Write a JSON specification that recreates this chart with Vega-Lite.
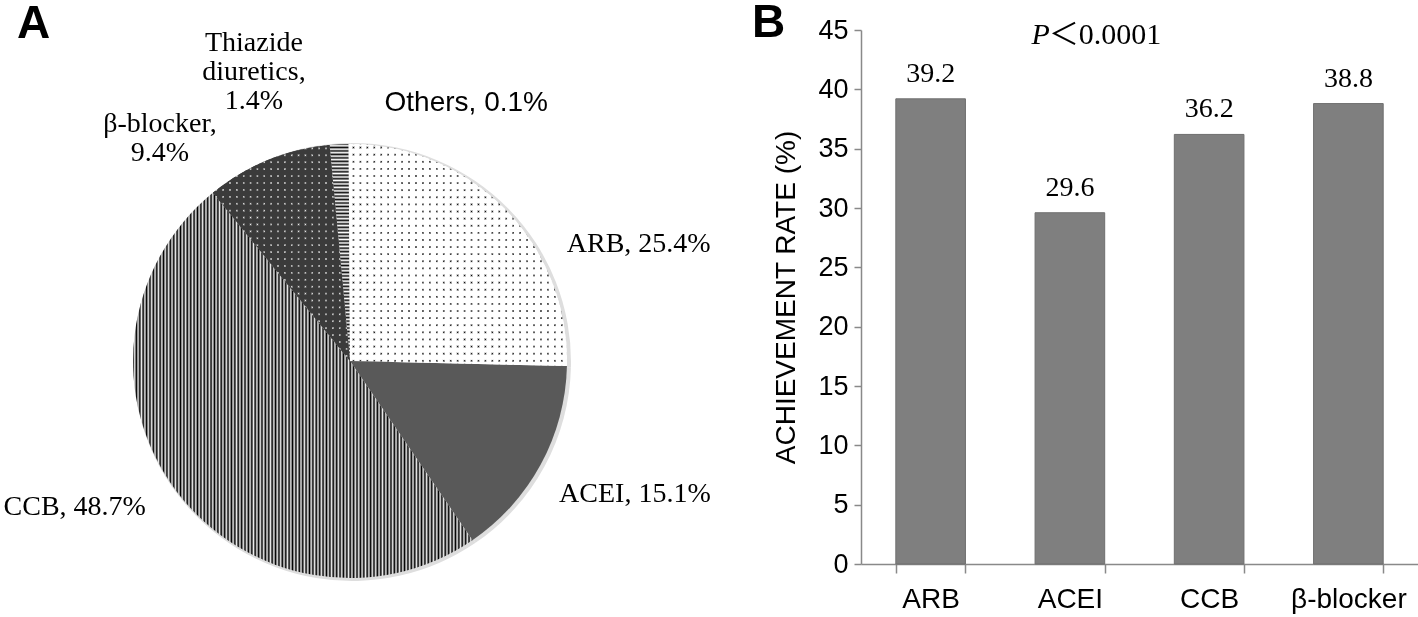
{
 "$schema": "https://vega.github.io/schema/vega-lite/v6.json",
 "background": "white",
 "padding": {"left": 0, "top": 0, "right": 0, "bottom": 0},
 "bounds": "flush",
 "spacing": 161,
 "config": {"view": {"stroke": null}},
 "hconcat": [
  {
   "width": 700,
   "height": 662,
   "title": {"text": "A", "anchor": "start", "frame": "group", "font": "Liberation Sans", "fontSize": 46, "fontWeight": "bold", "color": "#000", "baseline": "alphabetic", "offset": 0, "dx": 17, "dy": 55},
   "data": {"values": [
    {"cat": "ARB", "v": 25.4, "o": 1, "label": "ARB, 25.4%"},
    {"cat": "ACEI", "v": 15.1, "o": 2, "label": "ACEI, 15.1%"},
    {"cat": "CCB", "v": 48.7, "o": 3, "label": "CCB, 48.7%"},
    {"cat": "β-blocker", "v": 9.4, "o": 4, "label": "β-blocker,\n9.4%"},
    {"cat": "Thiazide diuretics", "v": 1.4, "o": 5, "label": "Thiazide\ndiuretics,\n1.4%"},
    {"cat": "Others", "v": 0.1, "o": 6, "label": "Others, 0.1%"}
   ]},
   "encoding": {
    "theta": {"field": "v", "type": "quantitative", "stack": true},
    "order": {"field": "o", "type": "quantitative"}
   },
   "layer": [
    {
     "mark": {"type": "arc", "outerRadius": 219, "strokeWidth": 0, "xOffset": 2, "yOffset": 1, "fill": "#dedede"}
    },
    {
     "mark": {"type": "arc", "outerRadius": 217, "strokeWidth": 0},
     "encoding": {
      "fill": {
       "condition": [
        {"test": "datum.o === 1", "value": {"gradient": "linear", "x1": 0, "y1": 0, "x2": 1, "y2": 0, "stops": [
{"offset":0.01,"color":"#fff"},{"offset":0.016,"color":"#000"},{"offset":0.022,"color":"#fff"},
{"offset":0.042,"color":"#fff"},{"offset":0.048,"color":"#000"},{"offset":0.054,"color":"#fff"},
{"offset":0.074,"color":"#fff"},{"offset":0.08,"color":"#000"},{"offset":0.086,"color":"#fff"},
{"offset":0.106,"color":"#fff"},{"offset":0.112,"color":"#000"},{"offset":0.118,"color":"#fff"},
{"offset":0.138,"color":"#fff"},{"offset":0.144,"color":"#000"},{"offset":0.15,"color":"#fff"},
{"offset":0.17,"color":"#fff"},{"offset":0.176,"color":"#000"},{"offset":0.182,"color":"#fff"},
{"offset":0.202,"color":"#fff"},{"offset":0.208,"color":"#000"},{"offset":0.214,"color":"#fff"},
{"offset":0.234,"color":"#fff"},{"offset":0.24,"color":"#000"},{"offset":0.246,"color":"#fff"},
{"offset":0.266,"color":"#fff"},{"offset":0.272,"color":"#000"},{"offset":0.278,"color":"#fff"},
{"offset":0.298,"color":"#fff"},{"offset":0.304,"color":"#000"},{"offset":0.31,"color":"#fff"},
{"offset":0.33,"color":"#fff"},{"offset":0.336,"color":"#000"},{"offset":0.342,"color":"#fff"},
{"offset":0.362,"color":"#fff"},{"offset":0.368,"color":"#000"},{"offset":0.374,"color":"#fff"},
{"offset":0.394,"color":"#fff"},{"offset":0.4,"color":"#000"},{"offset":0.406,"color":"#fff"},
{"offset":0.426,"color":"#fff"},{"offset":0.432,"color":"#000"},{"offset":0.438,"color":"#fff"},
{"offset":0.458,"color":"#fff"},{"offset":0.464,"color":"#000"},{"offset":0.47,"color":"#fff"},
{"offset":0.49,"color":"#fff"},{"offset":0.496,"color":"#000"},{"offset":0.502,"color":"#fff"},
{"offset":0.522,"color":"#fff"},{"offset":0.528,"color":"#000"},{"offset":0.534,"color":"#fff"},
{"offset":0.554,"color":"#fff"},{"offset":0.56,"color":"#000"},{"offset":0.566,"color":"#fff"},
{"offset":0.586,"color":"#fff"},{"offset":0.592,"color":"#000"},{"offset":0.598,"color":"#fff"},
{"offset":0.618,"color":"#fff"},{"offset":0.624,"color":"#000"},{"offset":0.63,"color":"#fff"},
{"offset":0.65,"color":"#fff"},{"offset":0.656,"color":"#000"},{"offset":0.662,"color":"#fff"},
{"offset":0.682,"color":"#fff"},{"offset":0.688,"color":"#000"},{"offset":0.694,"color":"#fff"},
{"offset":0.714,"color":"#fff"},{"offset":0.72,"color":"#000"},{"offset":0.726,"color":"#fff"},
{"offset":0.746,"color":"#fff"},{"offset":0.752,"color":"#000"},{"offset":0.758,"color":"#fff"},
{"offset":0.778,"color":"#fff"},{"offset":0.784,"color":"#000"},{"offset":0.79,"color":"#fff"},
{"offset":0.81,"color":"#fff"},{"offset":0.816,"color":"#000"},{"offset":0.822,"color":"#fff"},
{"offset":0.842,"color":"#fff"},{"offset":0.848,"color":"#000"},{"offset":0.854,"color":"#fff"},
{"offset":0.874,"color":"#fff"},{"offset":0.88,"color":"#000"},{"offset":0.886,"color":"#fff"},
{"offset":0.906,"color":"#fff"},{"offset":0.912,"color":"#000"},{"offset":0.918,"color":"#fff"},
{"offset":0.938,"color":"#fff"},{"offset":0.944,"color":"#000"},{"offset":0.95,"color":"#fff"},
{"offset":0.97,"color":"#fff"},{"offset":0.976,"color":"#000"},{"offset":0.982,"color":"#fff"}
        ]}},
        {"test": "datum.o === 2", "value": "#595959"},
        {"test": "datum.o === 3", "value": {"gradient": "linear", "x1": 0, "y1": 0, "x2": 1, "y2": 0, "stops": [
{"offset":0,"color":"#000"},{"offset":0.005,"color":"#ececec"},{"offset":0.01,"color":"#000"},{"offset":0.015,"color":"#ececec"},{"offset":0.02,"color":"#000"},{"offset":0.025,"color":"#ececec"},{"offset":0.03,"color":"#000"},{"offset":0.035,"color":"#ececec"},{"offset":0.04,"color":"#000"},{"offset":0.045,"color":"#ececec"},
{"offset":0.05,"color":"#000"},{"offset":0.055,"color":"#ececec"},{"offset":0.06,"color":"#000"},{"offset":0.065,"color":"#ececec"},{"offset":0.07,"color":"#000"},{"offset":0.075,"color":"#ececec"},{"offset":0.08,"color":"#000"},{"offset":0.085,"color":"#ececec"},{"offset":0.09,"color":"#000"},{"offset":0.095,"color":"#ececec"},
{"offset":0.1,"color":"#000"},{"offset":0.105,"color":"#ececec"},{"offset":0.11,"color":"#000"},{"offset":0.115,"color":"#ececec"},{"offset":0.12,"color":"#000"},{"offset":0.125,"color":"#ececec"},{"offset":0.13,"color":"#000"},{"offset":0.135,"color":"#ececec"},{"offset":0.14,"color":"#000"},{"offset":0.145,"color":"#ececec"},
{"offset":0.15,"color":"#000"},{"offset":0.155,"color":"#ececec"},{"offset":0.16,"color":"#000"},{"offset":0.165,"color":"#ececec"},{"offset":0.17,"color":"#000"},{"offset":0.175,"color":"#ececec"},{"offset":0.18,"color":"#000"},{"offset":0.185,"color":"#ececec"},{"offset":0.19,"color":"#000"},{"offset":0.195,"color":"#ececec"},
{"offset":0.2,"color":"#000"},{"offset":0.205,"color":"#ececec"},{"offset":0.21,"color":"#000"},{"offset":0.215,"color":"#ececec"},{"offset":0.22,"color":"#000"},{"offset":0.225,"color":"#ececec"},{"offset":0.23,"color":"#000"},{"offset":0.235,"color":"#ececec"},{"offset":0.24,"color":"#000"},{"offset":0.245,"color":"#ececec"},
{"offset":0.25,"color":"#000"},{"offset":0.255,"color":"#ececec"},{"offset":0.26,"color":"#000"},{"offset":0.265,"color":"#ececec"},{"offset":0.27,"color":"#000"},{"offset":0.275,"color":"#ececec"},{"offset":0.28,"color":"#000"},{"offset":0.285,"color":"#ececec"},{"offset":0.29,"color":"#000"},{"offset":0.295,"color":"#ececec"},
{"offset":0.3,"color":"#000"},{"offset":0.305,"color":"#ececec"},{"offset":0.31,"color":"#000"},{"offset":0.315,"color":"#ececec"},{"offset":0.32,"color":"#000"},{"offset":0.325,"color":"#ececec"},{"offset":0.33,"color":"#000"},{"offset":0.335,"color":"#ececec"},{"offset":0.34,"color":"#000"},{"offset":0.345,"color":"#ececec"},
{"offset":0.35,"color":"#000"},{"offset":0.355,"color":"#ececec"},{"offset":0.36,"color":"#000"},{"offset":0.365,"color":"#ececec"},{"offset":0.37,"color":"#000"},{"offset":0.375,"color":"#ececec"},{"offset":0.38,"color":"#000"},{"offset":0.385,"color":"#ececec"},{"offset":0.39,"color":"#000"},{"offset":0.395,"color":"#ececec"},
{"offset":0.4,"color":"#000"},{"offset":0.405,"color":"#ececec"},{"offset":0.41,"color":"#000"},{"offset":0.415,"color":"#ececec"},{"offset":0.42,"color":"#000"},{"offset":0.425,"color":"#ececec"},{"offset":0.43,"color":"#000"},{"offset":0.435,"color":"#ececec"},{"offset":0.44,"color":"#000"},{"offset":0.445,"color":"#ececec"},
{"offset":0.45,"color":"#000"},{"offset":0.455,"color":"#ececec"},{"offset":0.46,"color":"#000"},{"offset":0.465,"color":"#ececec"},{"offset":0.47,"color":"#000"},{"offset":0.475,"color":"#ececec"},{"offset":0.48,"color":"#000"},{"offset":0.485,"color":"#ececec"},{"offset":0.49,"color":"#000"},{"offset":0.495,"color":"#ececec"},
{"offset":0.5,"color":"#000"},{"offset":0.505,"color":"#ececec"},{"offset":0.51,"color":"#000"},{"offset":0.515,"color":"#ececec"},{"offset":0.52,"color":"#000"},{"offset":0.525,"color":"#ececec"},{"offset":0.53,"color":"#000"},{"offset":0.535,"color":"#ececec"},{"offset":0.54,"color":"#000"},{"offset":0.545,"color":"#ececec"},
{"offset":0.55,"color":"#000"},{"offset":0.555,"color":"#ececec"},{"offset":0.56,"color":"#000"},{"offset":0.565,"color":"#ececec"},{"offset":0.57,"color":"#000"},{"offset":0.575,"color":"#ececec"},{"offset":0.58,"color":"#000"},{"offset":0.585,"color":"#ececec"},{"offset":0.59,"color":"#000"},{"offset":0.595,"color":"#ececec"},
{"offset":0.6,"color":"#000"},{"offset":0.605,"color":"#ececec"},{"offset":0.61,"color":"#000"},{"offset":0.615,"color":"#ececec"},{"offset":0.62,"color":"#000"},{"offset":0.625,"color":"#ececec"},{"offset":0.63,"color":"#000"},{"offset":0.635,"color":"#ececec"},{"offset":0.64,"color":"#000"},{"offset":0.645,"color":"#ececec"},
{"offset":0.65,"color":"#000"},{"offset":0.655,"color":"#ececec"},{"offset":0.66,"color":"#000"},{"offset":0.665,"color":"#ececec"},{"offset":0.67,"color":"#000"},{"offset":0.675,"color":"#ececec"},{"offset":0.68,"color":"#000"},{"offset":0.685,"color":"#ececec"},{"offset":0.69,"color":"#000"},{"offset":0.695,"color":"#ececec"},
{"offset":0.7,"color":"#000"},{"offset":0.705,"color":"#ececec"},{"offset":0.71,"color":"#000"},{"offset":0.715,"color":"#ececec"},{"offset":0.72,"color":"#000"},{"offset":0.725,"color":"#ececec"},{"offset":0.73,"color":"#000"},{"offset":0.735,"color":"#ececec"},{"offset":0.74,"color":"#000"},{"offset":0.745,"color":"#ececec"},
{"offset":0.75,"color":"#000"},{"offset":0.755,"color":"#ececec"},{"offset":0.76,"color":"#000"},{"offset":0.765,"color":"#ececec"},{"offset":0.77,"color":"#000"},{"offset":0.775,"color":"#ececec"},{"offset":0.78,"color":"#000"},{"offset":0.785,"color":"#ececec"},{"offset":0.79,"color":"#000"},{"offset":0.795,"color":"#ececec"},
{"offset":0.8,"color":"#000"},{"offset":0.805,"color":"#ececec"},{"offset":0.81,"color":"#000"},{"offset":0.815,"color":"#ececec"},{"offset":0.82,"color":"#000"},{"offset":0.825,"color":"#ececec"},{"offset":0.83,"color":"#000"},{"offset":0.835,"color":"#ececec"},{"offset":0.84,"color":"#000"},{"offset":0.845,"color":"#ececec"},
{"offset":0.85,"color":"#000"},{"offset":0.855,"color":"#ececec"},{"offset":0.86,"color":"#000"},{"offset":0.865,"color":"#ececec"},{"offset":0.87,"color":"#000"},{"offset":0.875,"color":"#ececec"},{"offset":0.88,"color":"#000"},{"offset":0.885,"color":"#ececec"},{"offset":0.89,"color":"#000"},{"offset":0.895,"color":"#ececec"},
{"offset":0.9,"color":"#000"},{"offset":0.905,"color":"#ececec"},{"offset":0.91,"color":"#000"},{"offset":0.915,"color":"#ececec"},{"offset":0.92,"color":"#000"},{"offset":0.925,"color":"#ececec"},{"offset":0.93,"color":"#000"},{"offset":0.935,"color":"#ececec"},{"offset":0.94,"color":"#000"},{"offset":0.945,"color":"#ececec"},
{"offset":0.95,"color":"#000"},{"offset":0.955,"color":"#ececec"},{"offset":0.96,"color":"#000"},{"offset":0.965,"color":"#ececec"},{"offset":0.97,"color":"#000"},{"offset":0.975,"color":"#ececec"},{"offset":0.98,"color":"#000"},{"offset":0.985,"color":"#ececec"},{"offset":0.99,"color":"#000"},{"offset":0.995,"color":"#ececec"},
{"offset":1,"color":"#000"}
        ]}},
        {"test": "datum.o === 4", "value": {"gradient": "linear", "x1": 0, "y1": 0, "x2": 1, "y2": 0, "stops": [
{"offset":0.016,"color":"#3b3b3b"},{"offset":0.025,"color":"#f4f4f4"},{"offset":0.034,"color":"#3b3b3b"},
{"offset":0.066,"color":"#3b3b3b"},{"offset":0.075,"color":"#f4f4f4"},{"offset":0.084,"color":"#3b3b3b"},
{"offset":0.116,"color":"#3b3b3b"},{"offset":0.125,"color":"#f4f4f4"},{"offset":0.134,"color":"#3b3b3b"},
{"offset":0.166,"color":"#3b3b3b"},{"offset":0.175,"color":"#f4f4f4"},{"offset":0.184,"color":"#3b3b3b"},
{"offset":0.216,"color":"#3b3b3b"},{"offset":0.225,"color":"#f4f4f4"},{"offset":0.234,"color":"#3b3b3b"},
{"offset":0.266,"color":"#3b3b3b"},{"offset":0.275,"color":"#f4f4f4"},{"offset":0.284,"color":"#3b3b3b"},
{"offset":0.316,"color":"#3b3b3b"},{"offset":0.325,"color":"#f4f4f4"},{"offset":0.334,"color":"#3b3b3b"},
{"offset":0.366,"color":"#3b3b3b"},{"offset":0.375,"color":"#f4f4f4"},{"offset":0.384,"color":"#3b3b3b"},
{"offset":0.416,"color":"#3b3b3b"},{"offset":0.425,"color":"#f4f4f4"},{"offset":0.434,"color":"#3b3b3b"},
{"offset":0.466,"color":"#3b3b3b"},{"offset":0.475,"color":"#f4f4f4"},{"offset":0.484,"color":"#3b3b3b"},
{"offset":0.516,"color":"#3b3b3b"},{"offset":0.525,"color":"#f4f4f4"},{"offset":0.534,"color":"#3b3b3b"},
{"offset":0.566,"color":"#3b3b3b"},{"offset":0.575,"color":"#f4f4f4"},{"offset":0.584,"color":"#3b3b3b"},
{"offset":0.616,"color":"#3b3b3b"},{"offset":0.625,"color":"#f4f4f4"},{"offset":0.634,"color":"#3b3b3b"},
{"offset":0.666,"color":"#3b3b3b"},{"offset":0.675,"color":"#f4f4f4"},{"offset":0.684,"color":"#3b3b3b"},
{"offset":0.716,"color":"#3b3b3b"},{"offset":0.725,"color":"#f4f4f4"},{"offset":0.734,"color":"#3b3b3b"},
{"offset":0.766,"color":"#3b3b3b"},{"offset":0.775,"color":"#f4f4f4"},{"offset":0.784,"color":"#3b3b3b"},
{"offset":0.816,"color":"#3b3b3b"},{"offset":0.825,"color":"#f4f4f4"},{"offset":0.834,"color":"#3b3b3b"},
{"offset":0.866,"color":"#3b3b3b"},{"offset":0.875,"color":"#f4f4f4"},{"offset":0.884,"color":"#3b3b3b"},
{"offset":0.916,"color":"#3b3b3b"},{"offset":0.925,"color":"#f4f4f4"},{"offset":0.934,"color":"#3b3b3b"},
{"offset":0.966,"color":"#3b3b3b"},{"offset":0.975,"color":"#f4f4f4"},{"offset":0.984,"color":"#3b3b3b"}
        ]}},
        {"test": "datum.o === 5", "value": {"gradient": "linear", "x1": 0, "y1": 0, "x2": 0, "y2": 1, "stops": [
{"offset":0,"color":"#111"},{"offset":0.008,"color":"#fff"},{"offset":0.016,"color":"#111"},{"offset":0.024,"color":"#fff"},{"offset":0.032,"color":"#111"},{"offset":0.04,"color":"#fff"},{"offset":0.048,"color":"#111"},{"offset":0.056,"color":"#fff"},{"offset":0.064,"color":"#111"},{"offset":0.072,"color":"#fff"},
{"offset":0.08,"color":"#111"},{"offset":0.088,"color":"#fff"},{"offset":0.096,"color":"#111"},{"offset":0.104,"color":"#fff"},{"offset":0.112,"color":"#111"},{"offset":0.12,"color":"#fff"},{"offset":0.128,"color":"#111"},{"offset":0.136,"color":"#fff"},{"offset":0.144,"color":"#111"},{"offset":0.152,"color":"#fff"},
{"offset":0.16,"color":"#111"},{"offset":0.168,"color":"#fff"},{"offset":0.176,"color":"#111"},{"offset":0.184,"color":"#fff"},{"offset":0.192,"color":"#111"},{"offset":0.2,"color":"#fff"},{"offset":0.208,"color":"#111"},{"offset":0.216,"color":"#fff"},{"offset":0.224,"color":"#111"},{"offset":0.232,"color":"#fff"},
{"offset":0.24,"color":"#111"},{"offset":0.248,"color":"#fff"},{"offset":0.256,"color":"#111"},{"offset":0.264,"color":"#fff"},{"offset":0.272,"color":"#111"},{"offset":0.28,"color":"#fff"},{"offset":0.288,"color":"#111"},{"offset":0.296,"color":"#fff"},{"offset":0.304,"color":"#111"},{"offset":0.312,"color":"#fff"},
{"offset":0.32,"color":"#111"},{"offset":0.328,"color":"#fff"},{"offset":0.336,"color":"#111"},{"offset":0.344,"color":"#fff"},{"offset":0.352,"color":"#111"},{"offset":0.36,"color":"#fff"},{"offset":0.368,"color":"#111"},{"offset":0.376,"color":"#fff"},{"offset":0.384,"color":"#111"},{"offset":0.392,"color":"#fff"},
{"offset":0.4,"color":"#111"},{"offset":0.408,"color":"#fff"},{"offset":0.416,"color":"#111"},{"offset":0.424,"color":"#fff"},{"offset":0.432,"color":"#111"},{"offset":0.44,"color":"#fff"},{"offset":0.448,"color":"#111"},{"offset":0.456,"color":"#fff"},{"offset":0.464,"color":"#111"},{"offset":0.472,"color":"#fff"},
{"offset":0.48,"color":"#111"},{"offset":0.488,"color":"#fff"},{"offset":0.496,"color":"#111"},{"offset":0.504,"color":"#fff"},{"offset":0.512,"color":"#111"},{"offset":0.52,"color":"#fff"},{"offset":0.528,"color":"#111"},{"offset":0.536,"color":"#fff"},{"offset":0.544,"color":"#111"},{"offset":0.552,"color":"#fff"},
{"offset":0.56,"color":"#111"},{"offset":0.568,"color":"#fff"},{"offset":0.576,"color":"#111"},{"offset":0.584,"color":"#fff"},{"offset":0.592,"color":"#111"},{"offset":0.6,"color":"#fff"},{"offset":0.608,"color":"#111"},{"offset":0.616,"color":"#fff"},{"offset":0.624,"color":"#111"},{"offset":0.632,"color":"#fff"},
{"offset":0.64,"color":"#111"},{"offset":0.648,"color":"#fff"},{"offset":0.656,"color":"#111"},{"offset":0.664,"color":"#fff"},{"offset":0.672,"color":"#111"},{"offset":0.68,"color":"#fff"},{"offset":0.688,"color":"#111"},{"offset":0.696,"color":"#fff"},{"offset":0.704,"color":"#111"},{"offset":0.712,"color":"#fff"},
{"offset":0.72,"color":"#111"},{"offset":0.728,"color":"#fff"},{"offset":0.736,"color":"#111"},{"offset":0.744,"color":"#fff"},{"offset":0.752,"color":"#111"},{"offset":0.76,"color":"#fff"},{"offset":0.768,"color":"#111"},{"offset":0.776,"color":"#fff"},{"offset":0.784,"color":"#111"},{"offset":0.792,"color":"#fff"},
{"offset":0.8,"color":"#111"},{"offset":0.808,"color":"#fff"},{"offset":0.816,"color":"#111"},{"offset":0.824,"color":"#fff"},{"offset":0.832,"color":"#111"},{"offset":0.84,"color":"#fff"},{"offset":0.848,"color":"#111"},{"offset":0.856,"color":"#fff"},{"offset":0.864,"color":"#111"},{"offset":0.872,"color":"#fff"},
{"offset":0.88,"color":"#111"},{"offset":0.888,"color":"#fff"},{"offset":0.896,"color":"#111"},{"offset":0.904,"color":"#fff"},{"offset":0.912,"color":"#111"},{"offset":0.92,"color":"#fff"},{"offset":0.928,"color":"#111"},{"offset":0.936,"color":"#fff"},{"offset":0.944,"color":"#111"},{"offset":0.952,"color":"#fff"},
{"offset":0.96,"color":"#111"},{"offset":0.968,"color":"#fff"},{"offset":0.976,"color":"#111"},{"offset":0.984,"color":"#fff"},{"offset":0.992,"color":"#111"},{"offset":1,"color":"#fff"}
        ]}}
       ],
       "value": "#ffffff"
      }
     }
    },
    {
     "mark": {"type": "arc", "outerRadius": 217, "strokeWidth": 0, "blend": "lighten"},
     "encoding": {
      "fill": {
       "condition": {"test": "datum.o === 1", "value": {"gradient": "linear", "x1": 0, "y1": 0, "x2": 0, "y2": 1, "stops": [
{"offset":0.01,"color":"#fff"},{"offset":0.016,"color":"#000"},{"offset":0.022,"color":"#fff"},
{"offset":0.042,"color":"#fff"},{"offset":0.048,"color":"#000"},{"offset":0.054,"color":"#fff"},
{"offset":0.074,"color":"#fff"},{"offset":0.08,"color":"#000"},{"offset":0.086,"color":"#fff"},
{"offset":0.106,"color":"#fff"},{"offset":0.112,"color":"#000"},{"offset":0.118,"color":"#fff"},
{"offset":0.138,"color":"#fff"},{"offset":0.144,"color":"#000"},{"offset":0.15,"color":"#fff"},
{"offset":0.17,"color":"#fff"},{"offset":0.176,"color":"#000"},{"offset":0.182,"color":"#fff"},
{"offset":0.202,"color":"#fff"},{"offset":0.208,"color":"#000"},{"offset":0.214,"color":"#fff"},
{"offset":0.234,"color":"#fff"},{"offset":0.24,"color":"#000"},{"offset":0.246,"color":"#fff"},
{"offset":0.266,"color":"#fff"},{"offset":0.272,"color":"#000"},{"offset":0.278,"color":"#fff"},
{"offset":0.298,"color":"#fff"},{"offset":0.304,"color":"#000"},{"offset":0.31,"color":"#fff"},
{"offset":0.33,"color":"#fff"},{"offset":0.336,"color":"#000"},{"offset":0.342,"color":"#fff"},
{"offset":0.362,"color":"#fff"},{"offset":0.368,"color":"#000"},{"offset":0.374,"color":"#fff"},
{"offset":0.394,"color":"#fff"},{"offset":0.4,"color":"#000"},{"offset":0.406,"color":"#fff"},
{"offset":0.426,"color":"#fff"},{"offset":0.432,"color":"#000"},{"offset":0.438,"color":"#fff"},
{"offset":0.458,"color":"#fff"},{"offset":0.464,"color":"#000"},{"offset":0.47,"color":"#fff"},
{"offset":0.49,"color":"#fff"},{"offset":0.496,"color":"#000"},{"offset":0.502,"color":"#fff"},
{"offset":0.522,"color":"#fff"},{"offset":0.528,"color":"#000"},{"offset":0.534,"color":"#fff"},
{"offset":0.554,"color":"#fff"},{"offset":0.56,"color":"#000"},{"offset":0.566,"color":"#fff"},
{"offset":0.586,"color":"#fff"},{"offset":0.592,"color":"#000"},{"offset":0.598,"color":"#fff"},
{"offset":0.618,"color":"#fff"},{"offset":0.624,"color":"#000"},{"offset":0.63,"color":"#fff"},
{"offset":0.65,"color":"#fff"},{"offset":0.656,"color":"#000"},{"offset":0.662,"color":"#fff"},
{"offset":0.682,"color":"#fff"},{"offset":0.688,"color":"#000"},{"offset":0.694,"color":"#fff"},
{"offset":0.714,"color":"#fff"},{"offset":0.72,"color":"#000"},{"offset":0.726,"color":"#fff"},
{"offset":0.746,"color":"#fff"},{"offset":0.752,"color":"#000"},{"offset":0.758,"color":"#fff"},
{"offset":0.778,"color":"#fff"},{"offset":0.784,"color":"#000"},{"offset":0.79,"color":"#fff"},
{"offset":0.81,"color":"#fff"},{"offset":0.816,"color":"#000"},{"offset":0.822,"color":"#fff"},
{"offset":0.842,"color":"#fff"},{"offset":0.848,"color":"#000"},{"offset":0.854,"color":"#fff"},
{"offset":0.874,"color":"#fff"},{"offset":0.88,"color":"#000"},{"offset":0.886,"color":"#fff"},
{"offset":0.906,"color":"#fff"},{"offset":0.912,"color":"#000"},{"offset":0.918,"color":"#fff"},
{"offset":0.938,"color":"#fff"},{"offset":0.944,"color":"#000"},{"offset":0.95,"color":"#fff"},
{"offset":0.97,"color":"#fff"},{"offset":0.976,"color":"#000"},{"offset":0.982,"color":"#fff"}
       ]}},
       "value": "transparent"
      }
     }
    },
    {
     "mark": {"type": "arc", "outerRadius": 217, "strokeWidth": 0, "blend": "darken"},
     "encoding": {
      "fill": {
       "condition": {"test": "datum.o === 4", "value": {"gradient": "linear", "x1": 0, "y1": 0, "x2": 0, "y2": 1, "stops": [
{"offset":0.01,"color":"#3b3b3b"},{"offset":0.016,"color":"#f4f4f4"},{"offset":0.022,"color":"#3b3b3b"},
{"offset":0.042,"color":"#3b3b3b"},{"offset":0.048,"color":"#f4f4f4"},{"offset":0.054,"color":"#3b3b3b"},
{"offset":0.074,"color":"#3b3b3b"},{"offset":0.08,"color":"#f4f4f4"},{"offset":0.086,"color":"#3b3b3b"},
{"offset":0.106,"color":"#3b3b3b"},{"offset":0.112,"color":"#f4f4f4"},{"offset":0.118,"color":"#3b3b3b"},
{"offset":0.138,"color":"#3b3b3b"},{"offset":0.144,"color":"#f4f4f4"},{"offset":0.15,"color":"#3b3b3b"},
{"offset":0.17,"color":"#3b3b3b"},{"offset":0.176,"color":"#f4f4f4"},{"offset":0.182,"color":"#3b3b3b"},
{"offset":0.202,"color":"#3b3b3b"},{"offset":0.208,"color":"#f4f4f4"},{"offset":0.214,"color":"#3b3b3b"},
{"offset":0.234,"color":"#3b3b3b"},{"offset":0.24,"color":"#f4f4f4"},{"offset":0.246,"color":"#3b3b3b"},
{"offset":0.266,"color":"#3b3b3b"},{"offset":0.272,"color":"#f4f4f4"},{"offset":0.278,"color":"#3b3b3b"},
{"offset":0.298,"color":"#3b3b3b"},{"offset":0.304,"color":"#f4f4f4"},{"offset":0.31,"color":"#3b3b3b"},
{"offset":0.33,"color":"#3b3b3b"},{"offset":0.336,"color":"#f4f4f4"},{"offset":0.342,"color":"#3b3b3b"},
{"offset":0.362,"color":"#3b3b3b"},{"offset":0.368,"color":"#f4f4f4"},{"offset":0.374,"color":"#3b3b3b"},
{"offset":0.394,"color":"#3b3b3b"},{"offset":0.4,"color":"#f4f4f4"},{"offset":0.406,"color":"#3b3b3b"},
{"offset":0.426,"color":"#3b3b3b"},{"offset":0.432,"color":"#f4f4f4"},{"offset":0.438,"color":"#3b3b3b"},
{"offset":0.458,"color":"#3b3b3b"},{"offset":0.464,"color":"#f4f4f4"},{"offset":0.47,"color":"#3b3b3b"},
{"offset":0.49,"color":"#3b3b3b"},{"offset":0.496,"color":"#f4f4f4"},{"offset":0.502,"color":"#3b3b3b"},
{"offset":0.522,"color":"#3b3b3b"},{"offset":0.528,"color":"#f4f4f4"},{"offset":0.534,"color":"#3b3b3b"},
{"offset":0.554,"color":"#3b3b3b"},{"offset":0.56,"color":"#f4f4f4"},{"offset":0.566,"color":"#3b3b3b"},
{"offset":0.586,"color":"#3b3b3b"},{"offset":0.592,"color":"#f4f4f4"},{"offset":0.598,"color":"#3b3b3b"},
{"offset":0.618,"color":"#3b3b3b"},{"offset":0.624,"color":"#f4f4f4"},{"offset":0.63,"color":"#3b3b3b"},
{"offset":0.65,"color":"#3b3b3b"},{"offset":0.656,"color":"#f4f4f4"},{"offset":0.662,"color":"#3b3b3b"},
{"offset":0.682,"color":"#3b3b3b"},{"offset":0.688,"color":"#f4f4f4"},{"offset":0.694,"color":"#3b3b3b"},
{"offset":0.714,"color":"#3b3b3b"},{"offset":0.72,"color":"#f4f4f4"},{"offset":0.726,"color":"#3b3b3b"},
{"offset":0.746,"color":"#3b3b3b"},{"offset":0.752,"color":"#f4f4f4"},{"offset":0.758,"color":"#3b3b3b"},
{"offset":0.778,"color":"#3b3b3b"},{"offset":0.784,"color":"#f4f4f4"},{"offset":0.79,"color":"#3b3b3b"},
{"offset":0.81,"color":"#3b3b3b"},{"offset":0.816,"color":"#f4f4f4"},{"offset":0.822,"color":"#3b3b3b"},
{"offset":0.842,"color":"#3b3b3b"},{"offset":0.848,"color":"#f4f4f4"},{"offset":0.854,"color":"#3b3b3b"},
{"offset":0.874,"color":"#3b3b3b"},{"offset":0.88,"color":"#f4f4f4"},{"offset":0.886,"color":"#3b3b3b"},
{"offset":0.906,"color":"#3b3b3b"},{"offset":0.912,"color":"#f4f4f4"},{"offset":0.918,"color":"#3b3b3b"},
{"offset":0.938,"color":"#3b3b3b"},{"offset":0.944,"color":"#f4f4f4"},{"offset":0.95,"color":"#3b3b3b"},
{"offset":0.97,"color":"#3b3b3b"},{"offset":0.976,"color":"#f4f4f4"},{"offset":0.982,"color":"#3b3b3b"}
       ]}},
       "value": "transparent"
      }
     }
    },
    {
     "mark": {
      "type": "text",
      "radius": 240,
      "align": "center",
      "baseline": "middle",
      "lineBreak": "\n",
      "lineHeight": 29,
      "color": "#000",
      "fontSize": 28,
      "font": {"expr": "datum.o === 6 ? 'Liberation Sans' : 'Liberation Serif'"},
      "dx": {"expr": "datum.o === 1 ? 117 : datum.o === 2 ? 74 : datum.o === 3 ? -83 : datum.o === 4 ? -99 : datum.o === 5 ? -84 : 117"},
      "dy": {"expr": "datum.o === 1 ? 51 : datum.o === 2 ? 18 : datum.o === 3 ? 2 : datum.o === 4 ? -15 : datum.o === 5 ? -78 : -18"}
     },
     "encoding": {
      "text": {"field": "label", "type": "nominal"}
     }
    }
   ]
  },
  {
   "width": 557,
   "height": 534,
   "title": {"text": "B", "anchor": "start", "frame": "group", "font": "Liberation Sans", "fontSize": 46, "fontWeight": "bold", "color": "#000", "baseline": "alphabetic", "offset": 0, "dx": -109, "dy": 67},
   "layer": [
    {
     "data": {"values": [
      {"drug": "ARB", "rate": 39.2},
      {"drug": "ACEI", "rate": 29.6},
      {"drug": "CCB", "rate": 36.2},
      {"drug": "β-blocker", "rate": 38.8}
     ]},
     "layer": [
      {
       "mark": {"type": "bar", "fill": "#7f7f7f", "stroke": "#6f6f6f", "strokeWidth": 1},
       "encoding": {
        "x": {"field": "drug", "type": "nominal",
         "scale": {"domain": ["ARB", "ACEI", "CCB", "β-blocker"], "paddingInner": 0.5, "paddingOuter": 0.25},
         "axis": {"title": null, "labelAngle": 0, "labelFont": "Liberation Sans", "labelFontSize": 28, "labelColor": "#000", "labelPadding": 12, "tickBand": "extent", "tickSize": 9, "tickColor": "#898989", "tickWidth": 1.5, "domainColor": "#898989", "domainWidth": 1.5, "grid": false}},
        "y": {"field": "rate", "type": "quantitative",
         "scale": {"domain": [0, 45], "nice": false},
         "axis": {"title": "ACHIEVEMENT RATE (%)", "titleFont": "Liberation Sans", "titleFontSize": 28, "titleFontWeight": "normal", "titleColor": "#000", "titlePadding": 17, "values": [0, 5, 10, 15, 20, 25, 30, 35, 40, 45], "labelFont": "Liberation Sans", "labelFontSize": 27, "labelColor": "#000", "labelPadding": 6, "labelFlush": false, "tickSize": 7, "tickColor": "#898989", "tickWidth": 1.5, "domainColor": "#898989", "domainWidth": 1.5, "grid": false}}
       }
      },
      {
       "mark": {"type": "text", "font": "Liberation Serif", "fontSize": 28, "color": "#000", "baseline": "alphabetic", "dy": -17},
       "encoding": {
        "x": {"field": "drug", "type": "nominal"},
        "y": {"field": "rate", "type": "quantitative"},
        "text": {"field": "rate", "type": "quantitative", "format": ".1f"}
       }
      }
     ]
    },
    {
     "data": {"values": [{"p": "P", "rest": "＜0.0001"}]},
     "layer": [
      {
       "mark": {"type": "text", "font": "Liberation Serif", "fontStyle": "italic", "fontSize": 30, "color": "#000", "align": "right", "baseline": "middle", "dx": -20},
       "encoding": {
        "x": {"datum": "ACEI", "type": "nominal"},
        "y": {"datum": 44.6, "type": "quantitative"},
        "text": {"field": "p"}
       }
      },
      {
       "mark": {"type": "text", "font": "Liberation Serif, Noto Sans CJK SC", "fontSize": 30, "color": "#000", "align": "left", "baseline": "middle", "dx": -21},
       "encoding": {
        "x": {"datum": "ACEI", "type": "nominal"},
        "y": {"datum": 44.6, "type": "quantitative"},
        "text": {"field": "rest"}
       }
      }
     ]
    }
   ]
  }
 ]
}
